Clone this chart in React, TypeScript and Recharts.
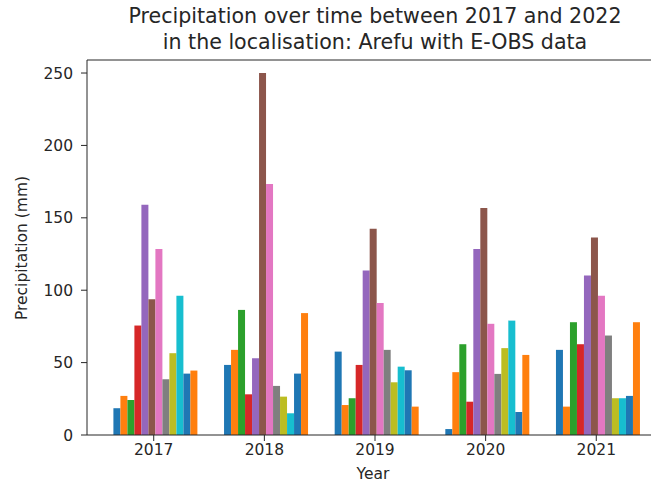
import { Bar, BarChart, Cell, ReferenceLine, XAxis, YAxis } from 'recharts'

// monthly precipitation (mm), Jan..Dec
const years = ['2017', '2018', '2019', '2020', '2021']
const p2017 = [18.5, 27, 24.2, 75.6, 159, 93.8, 128.4, 38.5, 56.5, 96.1, 42.4, 44.5]
const p2018 = [48.4, 58.8, 86.4, 28.1, 53, 250, 173.4, 33.9, 26.5, 15, 42.4, 84.2]
const p2019 = [57.6, 20.7, 25.4, 48.4, 113.6, 142.5, 91.1, 58.8, 36.4, 47.2, 44.7, 19.6]
const p2020 = [4.1, 43.4, 62.7, 23, 128.4, 156.8, 76.8, 42.2, 60, 79, 15.9, 55.3]
const p2021 = [58.8, 19.6, 77.9, 62.7, 110.2, 136.4, 96.1, 68.7, 25.4, 25.4, 27, 77.9]
const yTicks = [0, 50, 100, 150, 200, 250]

// matplotlib tab10 cycle
const COLORS = [
  '#1f77b4', '#ff7f0e', '#2ca02c', '#d62728', '#9467bd', '#8c564b',
  '#e377c2', '#7f7f7f', '#bcbd22', '#17becf', '#1f77b4', '#ff7f0e',
]

const series = [p2017, p2018, p2019, p2020, p2021]
const data = years.map((y, i) => {
  const row: Record<string, string | number> = { year: y }
  series[i].forEach((v, m) => { row['m' + m] = v })
  return row
})

const FONT = '"DejaVu Sans", sans-serif'
const INK = '#262626'
const tickStyle = { fontSize: 15.5, fontFamily: FONT, fill: INK }

export default function App() {
  return (
    <div style={{ position: 'absolute', left: 0, top: 0, width: 651, height: 486, overflow: 'hidden', background: '#fff', fontFamily: FONT, color: INK }}>
      <div style={{ position: 'absolute', left: 75, width: 600, top: 3, textAlign: 'center', fontSize: 20.6, lineHeight: '26px', whiteSpace: 'nowrap' }}>
        Precipitation over time between 2017 and 2022<br />in the localisation: Arefu with E-OBS data
      </div>
      <BarChart
        width={664}
        height={486}
        data={data}
        margin={{ top: 60, right: 1, left: 0, bottom: 21 }}
        barGap={0}
        barCategoryGap={15}
      >
        <XAxis
          dataKey="year"
          tick={tickStyle}
          tickSize={6}
          tickMargin={3}
          height={30}
          padding={{ left: 11.4, right: 11.4 }}
          axisLine={{ stroke: INK }}
          tickLine={{ stroke: INK }}
        />
        <YAxis
          domain={[0, 259]}
          ticks={yTicks}
          tick={tickStyle}
          tickSize={6}
          tickMargin={8}
          width={87}
          axisLine={{ stroke: INK }}
          tickLine={{ stroke: INK }}
        />
        <ReferenceLine y={259} stroke={INK} />
        {COLORS.map((c, m) => (
          <Bar key={m} dataKey={'m' + m} fill={c} isAnimationActive={false}>
            {data.map((_, i) => <Cell key={i} fill={c} />)}
          </Bar>
        ))}
      </BarChart>
      <div style={{ position: 'absolute', left: 323, width: 100, top: 465, textAlign: 'center', fontSize: 15.5 }}>Year</div>
      <div style={{ position: 'absolute', left: 22, top: 248, fontSize: 15.5, whiteSpace: 'nowrap', transform: 'translate(-50%, -50%) rotate(-90deg)' }}>
        Precipitation (mm)
      </div>
    </div>
  )
}
